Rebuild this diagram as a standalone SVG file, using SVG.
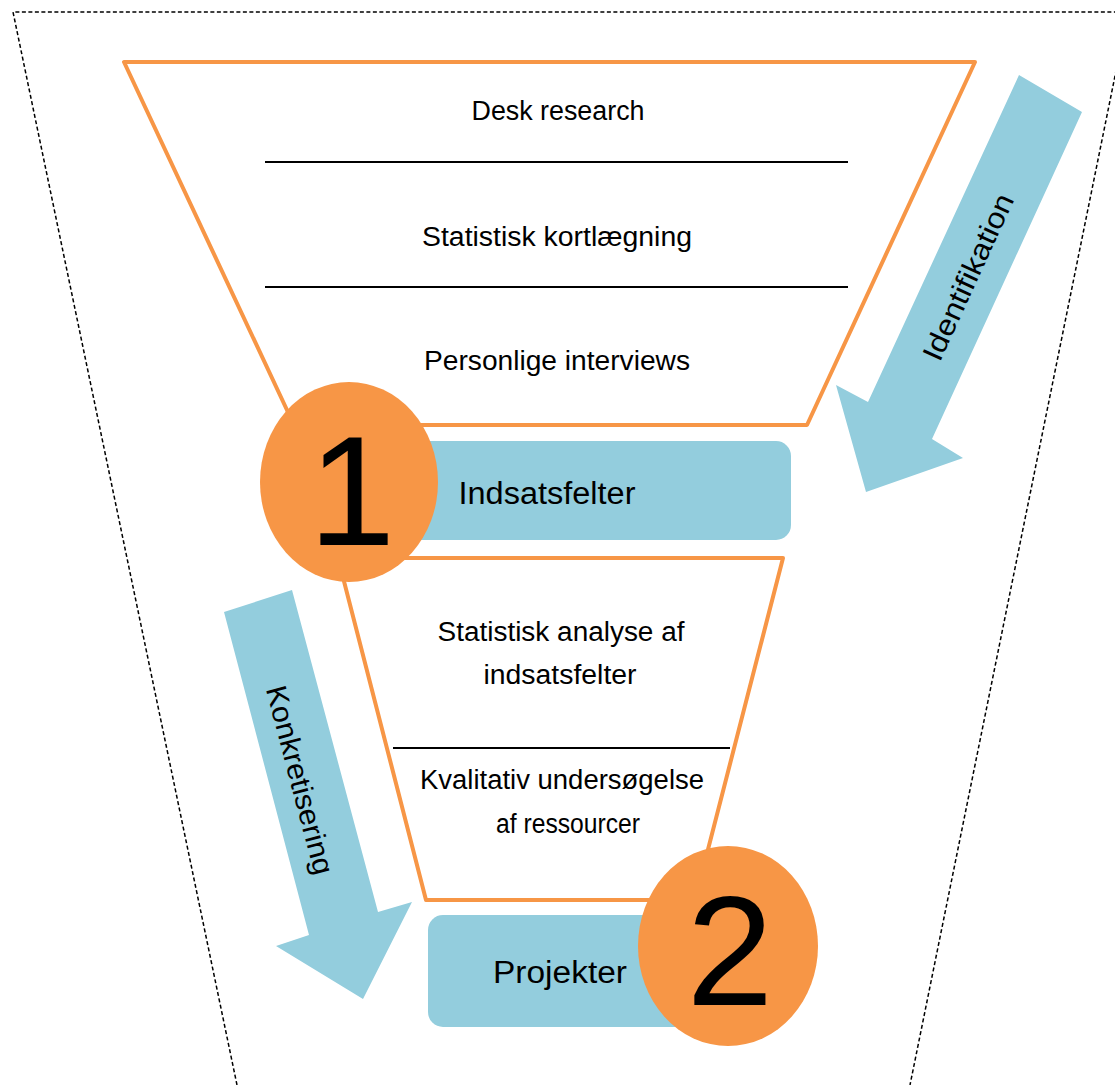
<svg xmlns="http://www.w3.org/2000/svg" width="1115" height="1085" viewBox="0 0 1115 1085">
<style>
.frame{fill:none;stroke:#000;stroke-width:1.5;stroke-dasharray:4 2.5}
.funnel{fill:#fff;stroke:#F79646;stroke-width:4;stroke-linejoin:round}
.sep{stroke:#000;stroke-width:2}
.box{fill:#93CDDD}
.badge{fill:#F79646}
.arrow{fill:#93CDDD}
.t{font-family:"Liberation Sans",Arial,sans-serif;font-size:27px;fill:#000;text-anchor:middle}
.ta{font-family:"Liberation Sans",Arial,sans-serif;font-size:29px;fill:#000;text-anchor:middle}
.tb{font-family:"Liberation Sans",Arial,sans-serif;font-size:31px;fill:#000;text-anchor:middle}
.num{font-family:"Liberation Sans",Arial,sans-serif;font-size:156px;fill:#000;text-anchor:middle}
</style>
<rect width="1115" height="1085" fill="#fff"/>
<g id="frame">
<polyline class="frame" points="237,1085 13,12 1115,12"/>
<polyline class="frame" points="1128,12 910,1085"/>
</g>
<g id="funnel-top">
<polygon class="funnel" points="124,62 975,62 807,425 294,425"/>
<line class="sep" x1="265" y1="162" x2="848" y2="162"/>
<line class="sep" x1="265" y1="287" x2="848" y2="287"/>
<text class="t" x="558" y="120" textLength="173" lengthAdjust="spacingAndGlyphs">Desk research</text>
<text class="t" x="557" y="246" textLength="270" lengthAdjust="spacingAndGlyphs">Statistisk kortlægning</text>
<text class="t" x="557" y="370" textLength="266" lengthAdjust="spacingAndGlyphs">Personlige interviews</text>
</g>
<g id="connectors">
<g id="arrow-identifikation">
<polygon class="arrow" points="1019,75 1082,112 932,439 963,458 866,492 836,385 868,402"/>
<text class="ta" transform="translate(968,277) rotate(-65.4)" y="10" textLength="180" lengthAdjust="spacingAndGlyphs">Identifikation</text>
</g>
<g id="arrow-konkretisering">
<polygon class="arrow" points="224,612 292,590 378,912 412,902 363,999 276,946 309,935"/>
<text class="ta" transform="translate(300,780) rotate(75.3)" y="10" textLength="194" lengthAdjust="spacingAndGlyphs">Konkretisering</text>
</g>
</g>
<g id="node-indsatsfelter">
<rect class="box" x="405" y="441" width="386" height="99" rx="15"/>
<text class="tb" x="547" y="504" textLength="177" lengthAdjust="spacingAndGlyphs">Indsatsfelter</text>
</g>
<g id="funnel-bottom">
<polygon class="funnel" points="338,558 783,558 695,900 426,900"/>
<line class="sep" x1="393" y1="748" x2="730" y2="748"/>
<text class="t" x="561" y="641" textLength="247" lengthAdjust="spacingAndGlyphs">Statistisk analyse af</text>
<text class="t" x="560" y="684" textLength="153" lengthAdjust="spacingAndGlyphs">indsatsfelter</text>
<text class="t" x="562" y="789" textLength="284" lengthAdjust="spacingAndGlyphs">Kvalitativ undersøgelse</text>
<text class="t" x="568" y="833" textLength="144" lengthAdjust="spacingAndGlyphs">af ressourcer</text>
</g>
<g id="badge-1">
<ellipse class="badge" cx="349" cy="482" rx="89" ry="100"/>
<text class="num" x="352" y="545">1</text>
</g>
<g id="node-projekter">
<rect class="box" x="428" y="915" width="300" height="112" rx="15"/>
<text class="tb" x="560" y="983" textLength="134" lengthAdjust="spacingAndGlyphs">Projekter</text>
</g>
<g id="badge-2">
<ellipse class="badge" cx="728" cy="946" rx="90" ry="100"/>
<text class="num" x="730" y="1005">2</text>
</g>
</svg>
